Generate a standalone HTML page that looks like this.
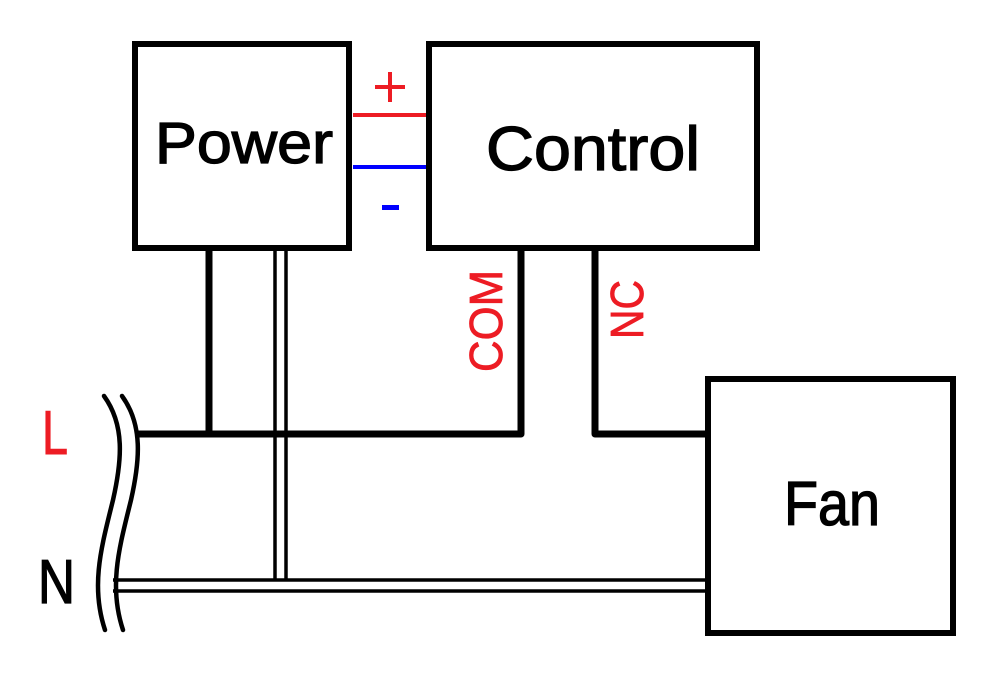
<!DOCTYPE html>
<html><head><meta charset="utf-8"><style>html,body{margin:0;padding:0;background:#fff}svg{display:block}</style></head>
<body>
<svg width="996" height="675" viewBox="0 0 996 675" xmlns="http://www.w3.org/2000/svg" font-family="Liberation Sans, DejaVu Sans, sans-serif">
<rect width="996" height="675" fill="#fff"/>
<g fill="none" stroke="#000" stroke-width="6">
<rect x="135" y="44" width="214" height="204"/>
<rect x="429" y="44" width="328" height="204"/>
<rect x="708" y="379" width="245" height="254"/>
</g>
<g fill="none" stroke="#000" stroke-width="7" stroke-linejoin="round">
<path d="M209 248 V434"/>
<path d="M137 434 H521 V248"/>
<path d="M595 248 V434 H708"/>
</g>
<g fill="none" stroke="#000" stroke-width="3.5">
<path d="M275 248 V580"/><path d="M286 248 V580"/>
<path d="M113 580 H708"/><path d="M113 591 H708"/>
<path d="M104 396 C125 425 122 460 113 500 C102 545 90 585 105 630" stroke-width="4.5" stroke-linecap="round"/>
<path d="M122 396 C143 425 140 460 131 500 C120 545 108 585 123 630" stroke-width="4.5" stroke-linecap="round"/>
</g>
<path d="M353 115 H426" stroke="#ed1c24" stroke-width="4"/>
<path d="M353 167 H426" stroke="#0000ff" stroke-width="4"/>
<rect x="375" y="85" width="30" height="4" fill="#ed1c24"/>
<rect x="388" y="72" width="4" height="30" fill="#ed1c24"/>
<rect x="382" y="205" width="17" height="5" fill="#0000ff"/>
<g stroke="#000" stroke-width="1.3">
<text x="155" y="163" font-size="58" textLength="178" lengthAdjust="spacingAndGlyphs">Power</text>
<text x="486" y="170" font-size="62" textLength="214" lengthAdjust="spacingAndGlyphs">Control</text>
<text x="784" y="525" font-size="62" textLength="96" lengthAdjust="spacingAndGlyphs">Fan</text>
<text x="38" y="603" font-size="62" textLength="37" lengthAdjust="spacingAndGlyphs">N</text>
</g>
<text x="42" y="454" font-size="62" fill="#ed1c24" stroke="#ed1c24" stroke-width="1" textLength="26" lengthAdjust="spacingAndGlyphs">L</text>
<g fill="#ed1c24" stroke="#ed1c24" stroke-width="0.8">
<text transform="translate(502,372) rotate(-90)" font-size="46" textLength="102" lengthAdjust="spacingAndGlyphs">COM</text>
<text transform="translate(643,339) rotate(-90)" font-size="46" textLength="59" lengthAdjust="spacingAndGlyphs">NC</text>
</g>
</svg>
</body></html>
